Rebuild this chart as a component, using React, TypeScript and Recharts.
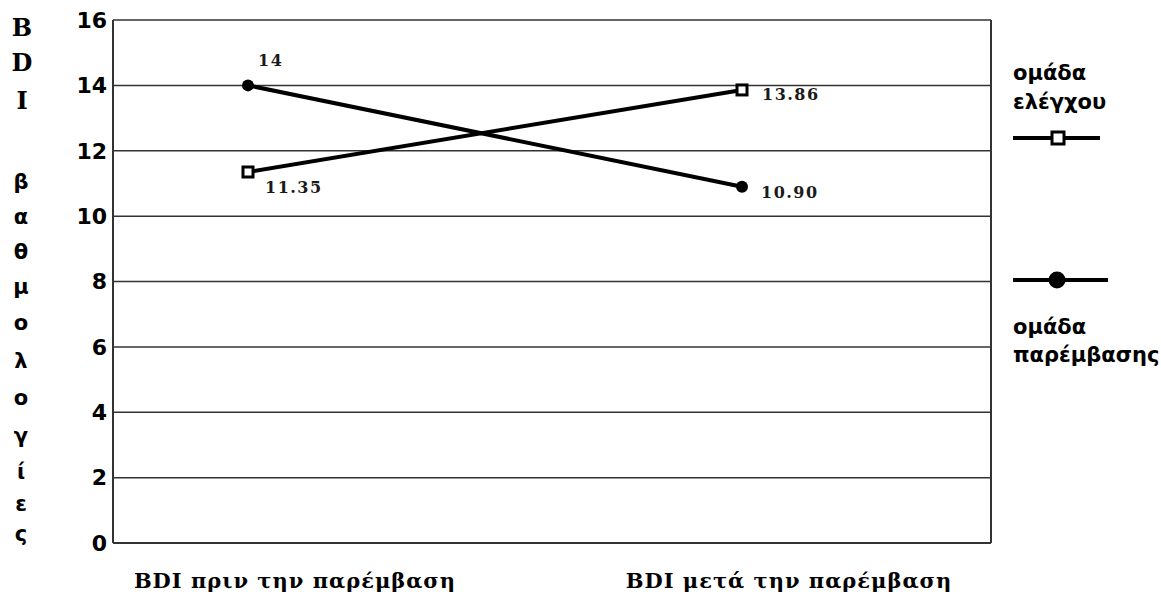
import { LineChart, Line, XAxis, YAxis, CartesianGrid, Legend, LabelList } from "recharts";

const phases = ["BDI πριν την παρέμβαση", "BDI μετά την παρέμβαση"];
const controlGroup = [11.35, 13.86];
const interventionGroup = [14, 10.9];
const controlLabels = ["11.35", "13.86"];
const interventionLabels = ["14", "10.90"];
const yTicks = [0, 2, 4, 6, 8, 10, 12, 14, 16];
const titleTop = ["B", "D", "I"];
const titleBottom = ["β", "α", "θ", "μ", "ο", "λ", "ο", "γ", "ί", "ε", "ς"];
const controlName = ["ομάδα", "ελέγχου"];
const interventionName = ["ομάδα", "παρέμβασης"];

const data = phases.map((phase, i) => ({
  phase,
  control: controlGroup[i],
  intervention: interventionGroup[i],
}));

const sans = "'DejaVu Sans', Verdana, sans-serif";
const serif = "'DejaVu Serif', serif";

const SquareDot = (props: any) => {
  const { cx, cy } = props;
  if (cx == null || cy == null) return null;
  return <rect x={cx - 5} y={cy - 5} width={10} height={10} fill="#fff" stroke="#000" strokeWidth={3} />;
};

const CircleDot = (props: any) => {
  const { cx, cy } = props;
  if (cx == null || cy == null) return null;
  return <circle cx={cx} cy={cy} r={6} fill="#000" />;
};

const valueText = (labels: string[], offsets: number[][]) => (props: any) => {
  const { x, y, index } = props;
  const [dx, dy] = offsets[index];
  return (
    <text x={x + dx} y={y + dy} dominantBaseline="central" fontFamily={serif} fontSize={16}
      fontWeight="bold" letterSpacing={1.5} fill="#1a1a1a">
      {labels[index]}
    </text>
  );
};

const PhaseTick = (props: any) => {
  const { x, y, payload } = props;
  return (
    <text x={x + 47} y={y + 29} textAnchor="middle" dominantBaseline="central" fontFamily={serif}
      fontWeight="bold" fontSize={21} letterSpacing={1} fill="#000">
      {payload.value}
    </text>
  );
};

const YTitle = () => {
  const topY = [27, 62, 100];
  const bottomY = [182, 217, 252, 287, 323, 361, 398, 436, 472, 504, 534];
  return (
    <g>
      {titleTop.map((c, i) => (
        <text key={"t" + i} x={22} y={topY[i]} textAnchor="middle" dominantBaseline="central"
          fontFamily={serif} fontWeight="bold" fontSize={24} fill="#000">{c}</text>
      ))}
      {titleBottom.map((c, i) => (
        <text key={"b" + i} x={21} y={bottomY[i]} textAnchor="middle" dominantBaseline="central"
          fontFamily={sans} fontWeight="bold" fontSize={21} fill="#000">{c}</text>
      ))}
    </g>
  );
};

const renderLegend = () => (
  <svg width={156} height={330}>
    {controlName.map((t, i) => (
      <text key={"c" + i} x={8} y={23 + i * 29} dominantBaseline="central" fontFamily={sans}
        fontWeight="bold" fontSize={21} fill="#000">{t}</text>
    ))}
    <line x1={8} x2={95} y1={88} y2={88} stroke="#000" strokeWidth={4} />
    <rect x={47} y={82} width={12} height={12} fill="#fff" stroke="#000" strokeWidth={3} />
    <line x1={8} x2={103} y1={230} y2={230} stroke="#000" strokeWidth={4} />
    <circle cx={52} cy={230} r={8.5} fill="#000" />
    {interventionName.map((t, i) => (
      <text key={"i" + i} x={8} y={277 + i * 28} dominantBaseline="central" fontFamily={sans}
        fontWeight="bold" fontSize={21} fill="#000">{t}</text>
    ))}
  </svg>
);

export default function App() {
  return (
    <div style={{ position: "absolute", left: 0, top: 0, width: 1161, height: 594, background: "#fff" }}>
      <LineChart width={1161} height={594} data={data} margin={{ top: 20, left: 53, right: 169, bottom: 0 }}>
        <CartesianGrid vertical={false} stroke="#333" strokeWidth={1.5} />
        <XAxis dataKey="phase" padding={{ left: 135, right: 249 }} height={51} tickLine={false}
          axisLine={{ stroke: "#333", strokeWidth: 2 }} tick={<PhaseTick />} interval={0} />
        <YAxis domain={[0, 16]} ticks={yTicks} width={60} tickSize={4} tickMargin={2}
          axisLine={{ stroke: "#333", strokeWidth: 2 }} tickLine={false}
          tick={{ fontFamily: sans, fontWeight: "bold", fontSize: 22, fill: "#000" }}
          label={{ content: () => <YTitle /> }} />
        <YAxis yAxisId="r" orientation="right" domain={[0, 16]} width={1} tick={false} tickLine={false}
          axisLine={{ stroke: "#333", strokeWidth: 2 }} />
        <Legend verticalAlign="middle" content={renderLegend}
          wrapperStyle={{ position: "absolute", left: 1005, top: 50, width: 156, height: 330 }} />
        <Line type="linear" dataKey="control" name="ομάδα ελέγχου" stroke="#000" strokeWidth={4}
          dot={<SquareDot />} activeDot={false} isAnimationActive={false}>
          <LabelList dataKey="control" content={valueText(controlLabels, [[17, 16], [20, 5]])} />
        </Line>
        <Line type="linear" dataKey="intervention" name="ομάδα παρέμβασης" stroke="#000" strokeWidth={4}
          dot={<CircleDot />} activeDot={false} isAnimationActive={false}>
          <LabelList dataKey="intervention" content={valueText(interventionLabels, [[10, -25], [19, 6]])} />
        </Line>
      </LineChart>
    </div>
  );
}
